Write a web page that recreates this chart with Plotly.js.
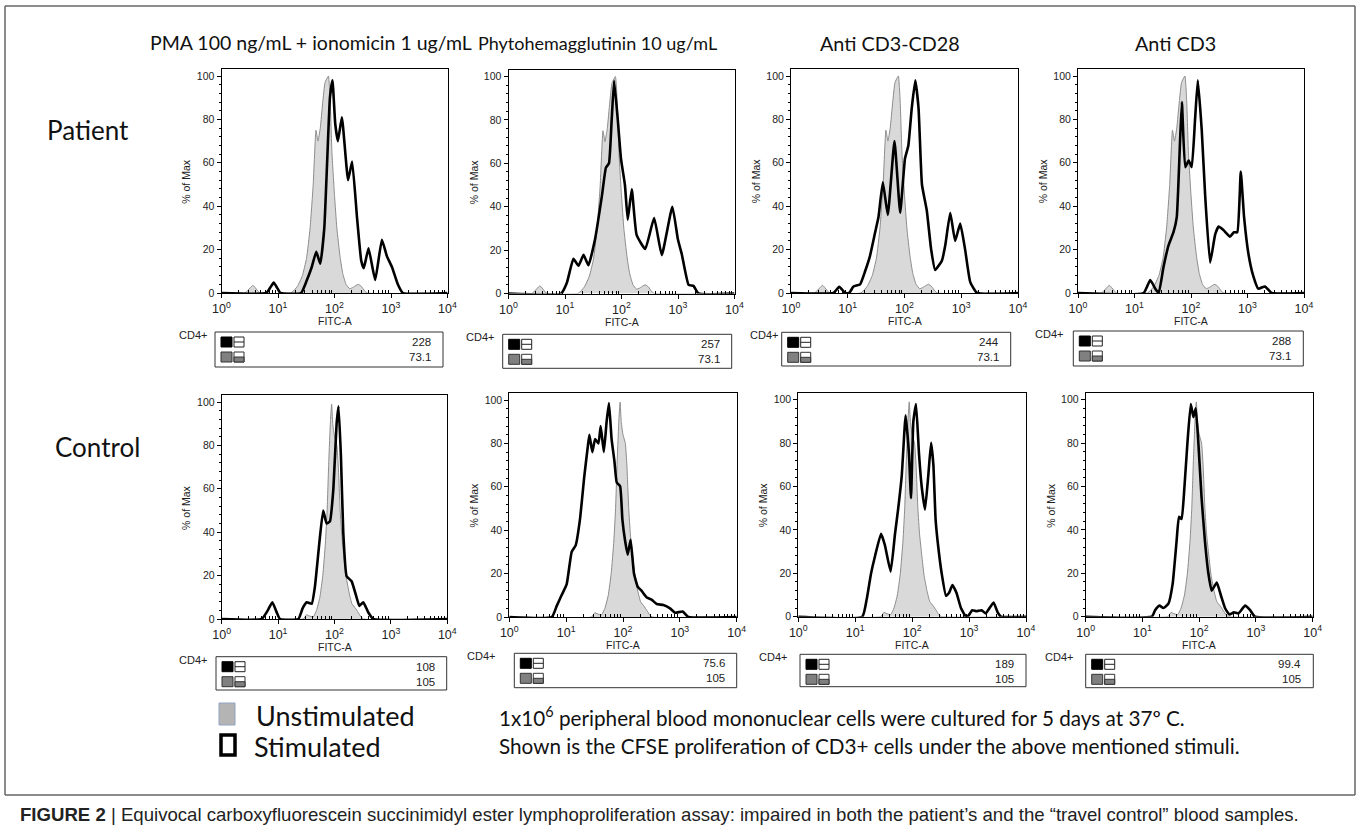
<!DOCTYPE html>
<html>
<head>
<meta charset="utf-8">
<script src="https://cdn.plot.ly/plotly-3.0.1.min.js"></script>
<style>html,body{margin:0;padding:0;background:#fff;}#chart{width:1360px;height:837px;}</style>
</head>
<body>
<div id="chart"></div>
<script>
// ---------------- DATA ----------------
const columnTitles = ["PMA 100 ng/mL + ionomicin 1 ug/mL", "Phytohemagglutinin 10 ug/mL", "Anti CD3-CD28", "Anti CD3"];
const rowLabels = ["Patient", "Control"];
const xTickVals = [1, 10, 100, 1000, 10000];
const xTickText = ["10<sup>0</sup>", "10<sup>1</sup>", "10<sup>2</sup>", "10<sup>3</sup>", "10<sup>4</sup>"];
const yTickVals = [0, 20, 40, 60, 80, 100];

// Unstimulated (grey, filled) histograms
const patientUnstimX = [1, 2.6, 3.6, 4.8, 17, 22, 27, 32, 37, 42, 47, 51, 56, 62, 68, 78, 84, 90, 100, 110, 125, 140, 160, 185, 210, 240, 265, 300, 340, 380, 10000];
const patientUnstimY = [0, 0, 3.5, 0, 0, 3, 8, 16, 30, 50, 75, 70, 76, 88, 97, 100, 88, 65, 45, 30, 17, 9, 4, 2, 2.5, 3.5, 4, 3, 1, 0, 0];
const controlUnstimX = [1, 28, 32, 35, 42, 48, 55, 62, 69, 74, 79, 85, 89, 93, 100, 110, 117, 126, 135, 148, 162, 182, 204, 234, 263, 295, 324, 10000];
const controlUnstimY = [0, 0, 2, 1.5, 1, 4, 10, 20, 35, 50, 72, 92, 99, 90, 84, 80, 70, 50, 38, 28, 19, 12, 7, 5, 3, 1, 0, 0];

// Stimulated (black line) histograms - patient
const pmaPatientX = [1, 6.2, 7.3, 8.4, 9.6, 11, 25.6, 32.5, 39.6, 47.6, 56, 66, 74, 83, 92, 103, 115, 135, 174, 205, 250, 297, 330, 400, 525, 690, 845, 1040, 1320, 1620, 10000];
const pmaPatientY = [0, 0, 2.5, 4.8, 2.5, 0, 0, 6, 12, 19, 13.5, 30, 60, 90, 98, 78, 70, 81, 52, 60.6, 35, 15, 11.4, 20.6, 6, 24.5, 17, 12, 4, 0, 0];
const phaPatientX = [1, 8.5, 10.8, 14.1, 17.3, 21.3, 26, 34, 45, 53, 60, 67, 74, 86, 98, 115, 129, 152, 185, 263, 378, 516, 795, 995, 1170, 1540, 1880, 2300, 10000];
const phaPatientY = [0, 0, 5, 16, 12.8, 17.8, 13, 25, 45, 58, 60, 80, 98, 80, 62, 50, 34, 48, 27, 20.5, 34.8, 17.7, 40, 25, 18, 4, 3.5, 0, 0];
const cd28PatientX = [1, 5.6, 7.1, 9, 10.6, 12.6, 16.5, 20.2, 24.6, 30.4, 34.8, 41.5, 50.8, 66.6, 83.9, 102, 117, 134, 155, 177, 203, 247, 295, 347, 457, 523, 640, 780, 960, 1170, 1440, 1900, 10000];
const cd28PatientY = [0, 0, 2.9, 0, 0, 3, 4, 10, 17, 28, 35, 51, 36, 70, 37, 62, 68, 85, 98, 85, 50, 38, 20, 10.6, 15, 22, 37, 24, 32, 20, 5, 0, 0];
const cd3PatientX = [1, 14.5, 19, 23.3, 26.8, 32.6, 40, 49, 56, 64, 69, 79, 91, 103, 118, 132, 155, 178, 218, 268, 308, 375, 490, 575, 660, 760, 870, 1040, 1260, 1550, 2040, 2680, 10000];
const cd3PatientY = [0, 0, 6, 2, 0, 12, 22, 28, 35, 70, 88, 58, 61, 58, 80, 98, 75, 45, 14, 27, 30.6, 29, 26, 28, 28, 56, 35, 18, 8, 2, 3, 0, 0];

// Stimulated (black line) histograms - control
const pmaControlX = [1, 5.1, 6.4, 7.9, 9.3, 10.8, 22.9, 27.3, 32.2, 39.4, 45, 53.8, 63, 72.5, 83, 95.5, 109, 118, 130, 143, 164, 201, 246, 276, 324, 398, 488, 10000];
const pmaControlY = [0, 0, 3.5, 7.7, 3.5, 0, 0, 5, 7.7, 7, 15, 35, 50, 44, 45, 60, 90, 98, 75, 40, 19.7, 17.4, 10, 6, 7.7, 3, 0, 0];
const phaControlX = [1, 5.6, 6.8, 8.3, 10.2, 12.5, 14.7, 17.5, 20.9, 23.9, 25.6, 28.9, 32.3, 37, 40.5, 46, 51.5, 56.6, 63, 70.5, 77.6, 89, 97.5, 109, 121, 136, 156, 181, 213, 262, 318, 392, 514, 672, 823, 1120, 1410, 10000];
const phaControlY = [0, 0, 5, 10, 15, 30, 33, 45, 65, 78, 84, 76, 82, 80, 88, 76, 90, 98.6, 82, 72, 62, 60.3, 45, 35, 28.7, 35.6, 20, 14, 12, 9, 8, 6, 5.5, 4, 2, 2.5, 0, 0];
const cd28ControlX = [1, 13.3, 15.9, 19, 22.3, 28.4, 33.2, 41.9, 49.9, 57, 65.7, 76.8, 87.9, 95.5, 105, 117, 132, 147, 168, 192, 215, 236, 258, 288, 330, 393, 445, 510, 600, 720, 885, 975, 1140, 1350, 1660, 1950, 2690, 3180, 3640, 10000];
const cd28ControlY = [0, 0, 8, 20, 28, 38.2, 33, 20.8, 38, 50, 65, 92.8, 75, 54.7, 90, 98, 75, 60, 49.3, 65, 80.1, 70, 45, 32, 20, 9.6, 11, 14.6, 11, 4, 0, 0.5, 3, 2.5, 3, 1.5, 6.5, 2, 0, 0];
const cd3ControlX = [1, 14.6, 16.7, 19.9, 23.4, 28.7, 34, 40, 44, 49, 55, 62, 71, 79, 87, 96.7, 110, 126, 145, 166, 204, 240, 285, 340, 409, 490, 645, 790, 960, 10000];
const cd3ControlY = [0, 0, 3, 5.1, 4, 6, 15, 35, 46, 45, 60, 80, 98, 92, 96, 80, 55, 35, 20, 12, 15.7, 10, 4, 1, 2, 1.5, 5.1, 3, 0, 0];

// Statistics (table values under each histogram)
const stimValues = ["228", "257", "244", "288", "108", "75.6", "189", "99.4"];
const unstimValues = ["73.1", "73.1", "73.1", "73.1", "105", "105", "105", "105"];
const gateLabel = "CD4+";

const legendLabels = ["Unstimulated", "Stimulated"];
const noteLines = [
  "1x10<sup>6</sup> peripheral blood mononuclear cells were cultured for 5 days at 37º C.",
  "Shown is the CFSE proliferation of CD3+ cells under the above mentioned stimuli."
];
const captionBold = "FIGURE 2";
const captionText = " | Equivocal carboxyfluorescein succinimidyl ester lymphoproliferation assay: impaired in both the patient’s and the “travel control” blood samples.";

// ---------------- LAYOUT GEOMETRY (pixels) ----------------
const W = 1360, H = 837;
const fx = x => x / W;
const fy = y => 1 - y / H;
// [left, right, y-of-zero] of each plot frame
const panels = [
  [221.5, 447.5, 293], [508.5, 734.5, 293.5], [791, 1018, 293], [1078, 1304, 293],
  [221.7, 447.3, 619], [509.3, 736.7, 617], [798.3, 1026, 616.7], [1085.7, 1312.7, 616.7]
];
const pxPerUnit = 2.17;
const yMax = 103;
// stats box: [left, right, top, bottom, cd4x]
const statBoxes = [
  [215, 443, 332, 367, 177], [502.7, 731.7, 334.3, 368.3, 464], [781.7, 1010.7, 332.3, 366, 748], [1073.3, 1303.3, 331, 366, 1033],
  [216, 446.7, 656.7, 690, 177], [514.3, 736.7, 653.3, 687.7, 465], [800, 1026, 654.3, 686.7, 757], [1085.7, 1313.3, 654.3, 687.7, 1043]
];

const stimSeries = [
  [pmaPatientX, pmaPatientY], [phaPatientX, phaPatientY], [cd28PatientX, cd28PatientY], [cd3PatientX, cd3PatientY],
  [pmaControlX, pmaControlY], [phaControlX, phaControlY], [cd28ControlX, cd28ControlY], [cd3ControlX, cd3ControlY]
];

const minorX = [];
for (let d = 0; d < 4; d++) for (let k = 2; k <= 9; k++) minorX.push(k * Math.pow(10, d));

const AX_FONT = "Liberation Sans, Arial, sans-serif";
const TITLE_FONT = "Lato, 'Open Sans', sans-serif";

const traces = [];
const layout = {
  width: W, height: H,
  margin: {l: 0, r: 0, t: 0, b: 0},
  paper_bgcolor: "#ffffff", plot_bgcolor: "#ffffff",
  showlegend: false,
  shapes: [], annotations: []
};

panels.forEach((p, i) => {
  const n = i + 1;
  const sfx = n === 1 ? "" : String(n);
  const [L, R, B] = p;
  const T = B - pxPerUnit * yMax;
  const unstim = i < 4 ? [patientUnstimX, patientUnstimY] : [controlUnstimX, controlUnstimY];
  traces.push({
    x: unstim[0], y: unstim[1], type: "scatter", mode: "lines",
    xaxis: "x" + sfx, yaxis: "y" + sfx,
    fill: "tozeroy", fillcolor: "#d9d9d9",
    line: {color: "#8c8c8c", width: 1, shape: "spline", smoothing: 0.4},
    hoverinfo: "skip"
  });
  traces.push({
    x: stimSeries[i][0], y: stimSeries[i][1], type: "scatter", mode: "lines",
    xaxis: "x" + sfx, yaxis: "y" + sfx,
    line: {color: "#000000", width: 2.6, shape: "spline", smoothing: 0.4},
    hoverinfo: "skip"
  });
  layout["xaxis" + sfx] = {
    domain: [fx(L), fx(R)], anchor: "y" + sfx, type: "log", range: [0, 4],
    tickmode: "array", tickvals: xTickVals, ticktext: xTickText,
    ticks: "outside", ticklen: 4, tickwidth: 1, tickcolor: "#000",
    showline: true, linecolor: "#000", linewidth: 1, mirror: true,
    showgrid: false, zeroline: false,
    tickfont: {family: AX_FONT, size: 12.5, color: "#222"},
    minor: {tickmode: "array", tickvals: minorX, ticks: "inside", ticklen: 3, tickcolor: "#000", showgrid: false},
    fixedrange: true
  };
  layout["yaxis" + sfx] = {
    domain: [fy(B), fy(T)], anchor: "x" + sfx, range: [0, yMax],
    tickmode: "array", tickvals: yTickVals,
    ticks: "outside", ticklen: 4, tickwidth: 1, tickcolor: "#000",
    showline: true, linecolor: "#000", linewidth: 1, mirror: true,
    showgrid: false, zeroline: false,
    tickfont: {family: AX_FONT, size: 10.5, color: "#222"},
    minor: {dtick: 4, tick0: 0, ticks: "outside", ticklen: 2, tickcolor: "#000", showgrid: false},
    fixedrange: true
  };
  // axis titles
  layout.annotations.push({
    xref: "paper", yref: "paper", x: fx(L - 35), y: fy((B + T) / 2),
    text: "% of Max", textangle: -90, showarrow: false,
    xanchor: "center", yanchor: "middle",
    font: {family: AX_FONT, size: 10.5, color: "#222"}
  });
  layout.annotations.push({
    xref: "paper", yref: "paper", x: fx((L + R) / 2), y: fy(B + 28),
    text: "FITC-A", showarrow: false, xanchor: "center", yanchor: "middle",
    font: {family: AX_FONT, size: 10.5, color: "#222"}
  });

  // stats table
  const [bL, bR, bT, bB, cx] = statBoxes[i];
  const rect = (x0, y0, x1, y1, fill, lc, lw) => ({
    type: "rect", xref: "paper", yref: "paper",
    x0: fx(x0), x1: fx(x1), y0: fy(y1), y1: fy(y0),
    fillcolor: fill, line: {color: lc, width: lw}
  });
  const hline = (x0, x1, y, lc) => ({
    type: "line", xref: "paper", yref: "paper",
    x0: fx(x0), x1: fx(x1), y0: fy(y), y1: fy(y), line: {color: lc, width: 1}
  });
  layout.shapes.push(rect(bL, bT, bR, bB, "rgba(0,0,0,0)", "#333", 1));
  // row 1 icons
  layout.shapes.push(rect(bL + 6, bT + 5, bL + 17, bT + 15, "#000", "#000", 1));
  layout.shapes.push(rect(bL + 19, bT + 5, bL + 29, bT + 15, "#fff", "#222", 1));
  layout.shapes.push(hline(bL + 19, bL + 29, bT + 10, "#222"));
  // row 2 icons
  layout.shapes.push(rect(bL + 6, bT + 20, bL + 17, bT + 30, "#808080", "#333", 1));
  layout.shapes.push(rect(bL + 19, bT + 20, bL + 29, bT + 30, "#fff", "#333", 1));
  layout.shapes.push(rect(bL + 19, bT + 25, bL + 29, bT + 30, "#808080", "#333", 1));
  layout.annotations.push({
    xref: "paper", yref: "paper", x: fx(cx), y: fy(bT + 3), text: gateLabel,
    showarrow: false, xanchor: "left", yanchor: "middle",
    font: {family: AX_FONT, size: 11, color: "#222"}
  });
  layout.annotations.push({
    xref: "paper", yref: "paper", x: fx(bR - 10), y: fy(bT + 10), text: stimValues[i],
    showarrow: false, xanchor: "right", yanchor: "middle",
    font: {family: AX_FONT, size: 11.5, color: "#222"}
  });
  layout.annotations.push({
    xref: "paper", yref: "paper", x: fx(bR - 10), y: fy(bT + 25), text: unstimValues[i],
    showarrow: false, xanchor: "right", yanchor: "middle",
    font: {family: AX_FONT, size: 11.5, color: "#222"}
  });
});

// column titles
const titleX = [310.5, 597.5, 890, 1175];
const titleSize = [19.5, 18, 19.8, 19.8];
columnTitles.forEach((t, i) => layout.annotations.push({
  xref: "paper", yref: "paper", x: fx(titleX[i]), y: fy(43), text: t,
  showarrow: false, xanchor: "center", yanchor: "middle",
  font: {family: TITLE_FONT, size: titleSize[i], color: "#111"}
}));
// row labels
const rowPos = [[88, 130], [98, 447]];
rowLabels.forEach((t, i) => layout.annotations.push({
  xref: "paper", yref: "paper", x: fx(rowPos[i][0]), y: fy(rowPos[i][1]), text: t,
  showarrow: false, xanchor: "center", yanchor: "middle",
  font: {family: TITLE_FONT, size: 26, color: "#111"}
}));

// legend
layout.shapes.push({type: "rect", xref: "paper", yref: "paper", x0: fx(219), x1: fx(235), y0: fy(725), y1: fy(703), fillcolor: "#b4b4b4", line: {color: "#8fa3c4", width: 1}});
layout.shapes.push({type: "rect", xref: "paper", yref: "paper", x0: fx(221), x1: fx(235), y0: fy(755), y1: fy(735), fillcolor: "#fff", line: {color: "#000", width: 3.5}});
layout.annotations.push({xref: "paper", yref: "paper", x: fx(254), y: fy(715), text: legendLabels[0], showarrow: false, xanchor: "left", yanchor: "middle", font: {family: TITLE_FONT, size: 27, color: "#111"}});
layout.annotations.push({xref: "paper", yref: "paper", x: fx(252), y: fy(746), text: legendLabels[1], showarrow: false, xanchor: "left", yanchor: "middle", font: {family: TITLE_FONT, size: 27, color: "#111"}});
// note text
noteLines.forEach((t, i) => layout.annotations.push({
  xref: "paper", yref: "paper", x: fx(497), y: fy(716 + i * 30), text: t,
  showarrow: false, xanchor: "left", yanchor: "middle",
  font: {family: TITLE_FONT, size: 20.7, color: "#111"}
}));
// caption
layout.annotations.push({
  xref: "paper", yref: "paper", x: fx(18), y: fy(814),
  text: "<b>" + captionBold + "</b>" + captionText,
  showarrow: false, xanchor: "left", yanchor: "middle",
  font: {family: "'Liberation Sans Narrow', 'Arial Narrow', 'Liberation Sans', sans-serif", size: 18.6, color: "#222"}
});
// outer frame
[[5, 6, 1355, 6], [5, 6, 5, 795], [1355, 6, 1355, 795], [5, 795, 1355, 795]].forEach(s => layout.shapes.push({
  type: "line", xref: "paper", yref: "paper", x0: fx(s[0]), y0: fy(s[1]), x1: fx(s[2]), y1: fy(s[3]),
  line: {color: "#666", width: 1.5}
}));

Plotly.newPlot("chart", traces, layout, {staticPlot: true, displayModeBar: false});
</script>
</body>
</html>
